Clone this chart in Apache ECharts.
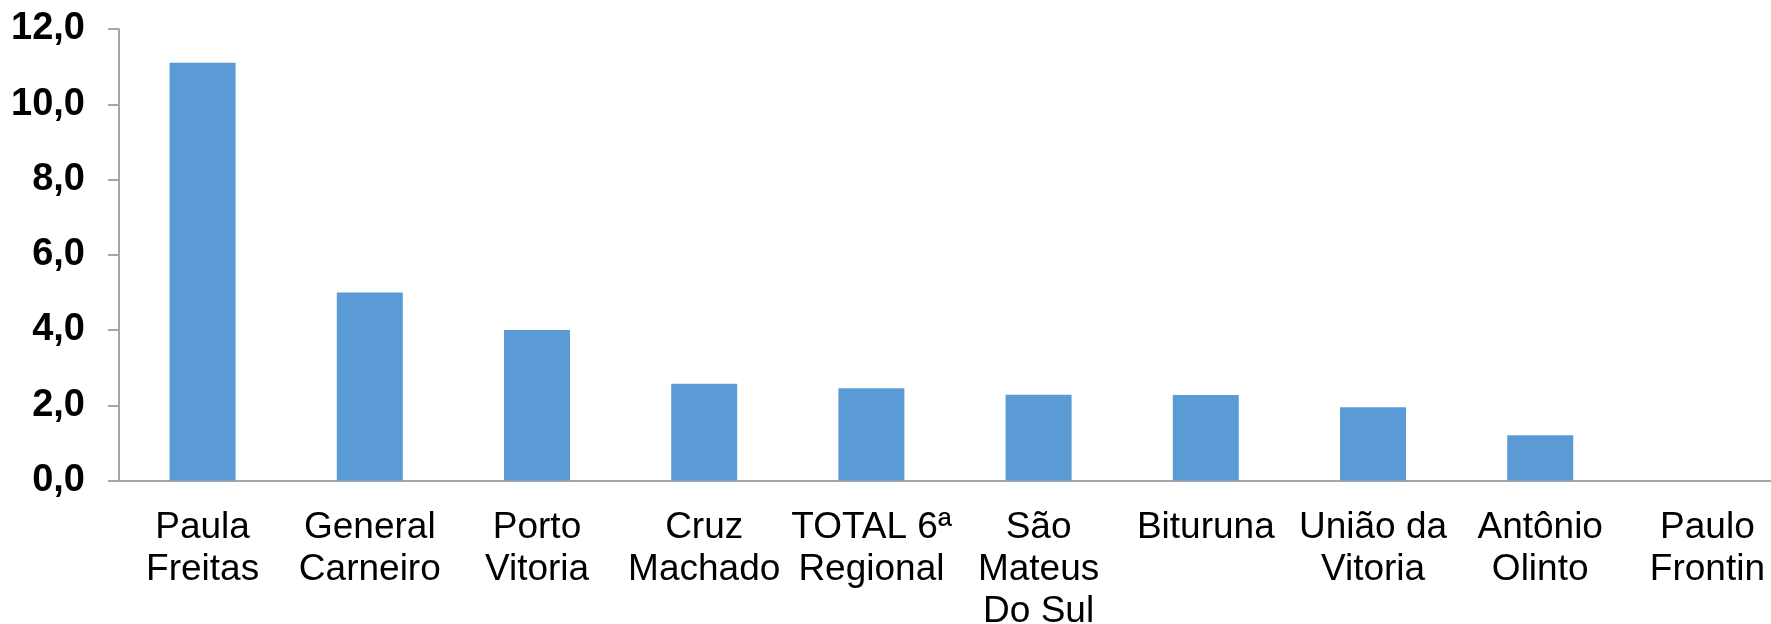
<!DOCTYPE html>
<html>
<head>
<meta charset="utf-8">
<script src="https://cdn.jsdelivr.net/npm/echarts@6/dist/echarts.min.js"></script>
<style>
  html, body { margin: 0; padding: 0; background: #fff; }
  #chart { width: 1771px; height: 624px; }
</style>
</head>
<body>
<div id="chart"></div>
<script>
const categories = [
  'Paula\nFreitas', 'General\nCarneiro', 'Porto\nVitoria', 'Cruz\nMachado',
  'TOTAL 6ª\nRegional', 'São\nMateus\nDo Sul', 'Bituruna', 'União da\nVitoria',
  'Antônio\nOlinto', 'Paulo\nFrontin'
]
const values = [11.1, 5.0, 4.0, 2.57, 2.45, 2.28, 2.27, 1.95, 1.2, 0]
const yTicks = { min: 0, max: 12, step: 2 }

const myChart = echarts.init(document.getElementById('chart'))

const option = {
  animation: false,
  textStyle: { fontFamily: 'Liberation Sans, Arial, sans-serif' },
  grid: {
    left: 119,
    right: -20,
    top: 29,
    bottom: 143.5,
    containLabel: false,
    outerBoundsMode: 'none'
  },
  xAxis: {
    type: 'category',
    data: categories,
    axisLine: { lineStyle: { color: '#a6a6a6', width: 2 } },
    axisTick: { show: false },
    axisLabel: {
      interval: 0,
      color: '#000',
      fontSize: 37,
      lineHeight: 42,
      margin: 26,
      verticalAlign: 'top'
    }
  },
  yAxis: {
    type: 'value',
    min: yTicks.min,
    max: yTicks.max,
    interval: yTicks.step,
    splitLine: { show: false },
    axisLine: { show: true, lineStyle: { color: '#a6a6a6', width: 2 } },
    axisTick: { show: true, length: 11, lineStyle: { color: '#a6a6a6', width: 2 } },
    axisLabel: {
      color: '#000',
      fontSize: 38,
      fontWeight: 'bold',
      margin: 34,
      formatter: v => v.toFixed(1).replace('.', ',')
    }
  },
  series: [{
    type: 'bar',
    data: values,
    barWidth: 66,
    itemStyle: { color: '#5b9bd5' }
  }]
}

myChart.setOption(option)
</script>
</body>
</html>
